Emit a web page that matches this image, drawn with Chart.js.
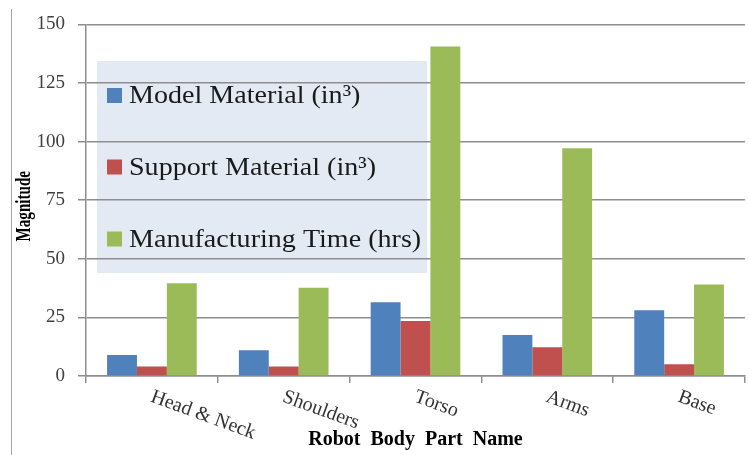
<!DOCTYPE html>
<html>
<head>
<meta charset="utf-8">
<title>Robot body part materials and time</title>
<script src="https://cdn.jsdelivr.net/npm/chart.js@4.4.1/dist/chart.umd.min.js"></script>
<style>
  html, body { margin: 0; padding: 0; background: #fff; }
  #wrap { position: relative; width: 749px; height: 455px; }
</style>
</head>
<body>
<div id="wrap"><canvas id="chart" width="749" height="455"></canvas></div>
<script>
const categories = ["Head & Neck", "Shoulders", "Torso", "Arms", "Base"]
const seriesNames = ["Model Material (in\u00B3)", "Support Material (in\u00B3)", "Manufacturing Time (hrs)"]
const modelMaterial = [9, 11, 31.5, 17.5, 28]
const supportMaterial = [4, 4, 23.5, 12.3, 5]
const manufacturingTime = [39.6, 37.7, 140.6, 97.2, 39]
const yTicks = [0, 25, 50, 75, 100, 125, 150]

const colors = ["#4F81BD", "#C0504D", "#9BBB59"]
const serif = "'Liberation Serif', 'DejaVu Serif', serif"
const gridGray = "#8e8e8e"

// legend box sits inside the plot, behind the grid lines
const insetLegend = {
  id: "insetLegend",
  beforeDraw(chart) {
    const ctx = chart.ctx
    ctx.save()
    // thin frame line down the left edge
    ctx.strokeStyle = "#a6a6a6"
    ctx.lineWidth = 1
    ctx.beginPath()
    ctx.moveTo(11.5, 9)
    ctx.lineTo(11.5, 455)
    ctx.stroke()

    ctx.fillStyle = "#E4EAF4"
    ctx.fillRect(97, 61, 330, 212)
    ctx.restore()
  },
  afterDatasetsDraw(chart) {
    const ctx = chart.ctx
    const rows = [95.5, 167, 239]
    ctx.save()
    ctx.font = "26px " + serif
    ctx.textBaseline = "middle"
    ctx.textAlign = "left"
    chart.data.datasets.forEach((ds, i) => {
      ctx.fillStyle = ds.backgroundColor
      ctx.fillRect(107, rows[i] - 7.5, 15, 15)
      ctx.fillStyle = "#1a1a1a"
      ctx.save()
      ctx.translate(129, rows[i] + 1)
      ctx.scale(1.08, 1)
      ctx.fillText(ds.label, 0, 0)
      ctx.restore()
    })
    ctx.restore()
  },
  afterDraw(chart) {
    const ctx = chart.ctx
    const xs = chart.scales.x
    ctx.save()
    // slanted category names under each group
    ctx.font = "20px " + serif
    ctx.fillStyle = "#333"
    ctx.textAlign = "left"
    ctx.textBaseline = "top"
    categories.forEach((name, i) => {
      ctx.save()
      ctx.translate(xs.getPixelForValue(i) + 3, xs.top + 11)
      ctx.rotate(20 * Math.PI / 180)
      ctx.fillText(name, 0, 0)
      ctx.restore()
    })

    // y axis title, heavy and condensed
    const ys = chart.scales.y
    ctx.font = "bold 21px " + serif
    ctx.fillStyle = "#000"
    ctx.textAlign = "center"
    ctx.textBaseline = "middle"
    ctx.translate(25, (ys.top + ys.bottom) / 2 + 6)
    ctx.rotate(-Math.PI / 2)
    ctx.scale(0.72, 1)
    ctx.fillText("Magnitude", 0, 0)
    ctx.restore()
  }
}

new Chart(document.getElementById("chart"), {
  type: "bar",
  data: {
    labels: categories,
    datasets: [
      { label: seriesNames[0], data: modelMaterial, backgroundColor: colors[0] },
      { label: seriesNames[1], data: supportMaterial, backgroundColor: colors[1] },
      { label: seriesNames[2], data: manufacturingTime, backgroundColor: colors[2] },
    ],
  },
  options: {
    responsive: false,
    animation: false,
    devicePixelRatio: 1,
    layout: { padding: { top: 21, right: 4, bottom: 0, left: 0 } },
    datasets: {
      bar: { categoryPercentage: 0.68, barPercentage: 1.0, borderWidth: 0 },
    },
    plugins: {
      legend: { display: false },
      tooltip: { enabled: false },
    },
    scales: {
      x: {
        grid: {
          offset: true,
          drawOnChartArea: false,
          drawTicks: true,
          tickLength: 7,
          color: gridGray,
          lineWidth: 1.5,
        },
        border: { color: gridGray, width: 1.5 },
        ticks: { display: false },
        title: {
          display: true,
          text: "Robot  Body  Part  Name",
          color: "#000",
          font: { family: serif, size: 20, weight: "bold" },
          padding: { top: 0, bottom: 3 },
        },
        afterFit(scale) {
          scale.height = 79
        },
      },
      y: {
        min: 0,
        max: 150,
        afterBuildTicks(scale) {
          scale.ticks = yTicks.map(v => ({ value: v }))
        },
        ticks: {
          color: "#404040",
          padding: 13,
          font: { family: serif, size: 19 },
        },
        grid: { color: gridGray, lineWidth: 1.5, tickLength: 8 },
        border: { color: gridGray, width: 1.5 },
        afterFit(scale) {
          scale.width = 86
        },
      },
    },
  },
  plugins: [insetLegend],
})
</script>
</body>
</html>
